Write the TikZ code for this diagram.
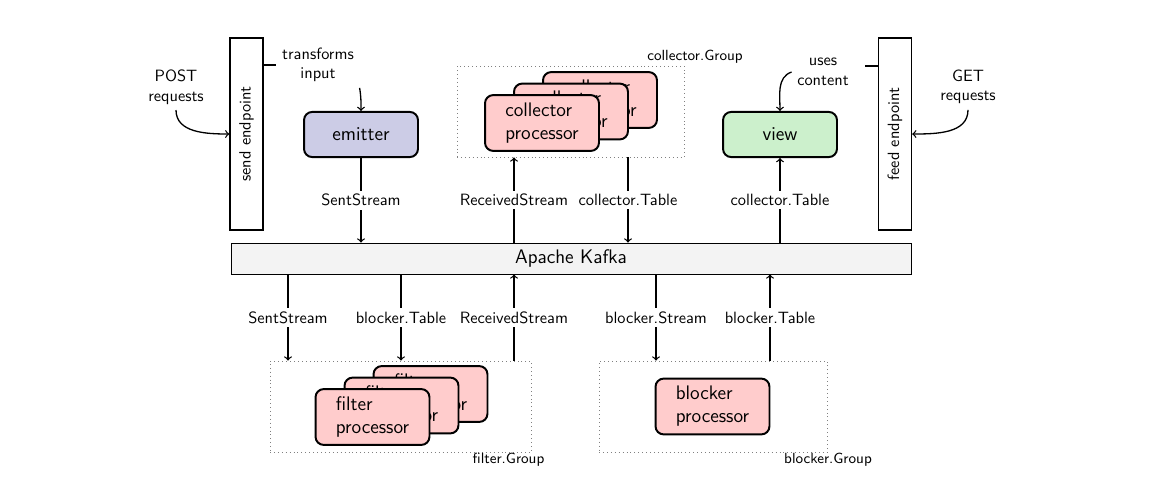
\documentclass[tikz,border=0pt]{standalone}
\usepackage{amsmath}
\usepackage{graphicx}
\usepackage{xcolor}
\definecolor{emitterblue}{RGB}{204,204,230}
\definecolor{viewgreen}{RGB}{204,240,204}
\definecolor{procred}{RGB}{255,204,204}
\definecolor{kafkagray}{RGB}{243,243,243}

\begin{document}
\begin{tikzpicture}[x=0.0215cm,y=-0.0215cm,font=\sffamily,
  comp/.style={draw,very thick,rounded corners=5pt,minimum width=2.45cm,minimum height=0.97cm,font=\sffamily\large},
  proc/.style={comp,fill=procred,minimum height=1.2cm,align=left},
  endpt/.style={draw,thick,minimum width=0.71cm,minimum height=4.13cm,inner sep=0pt},
  group/.style={draw=gray,dotted,minimum height=1.96cm},
  lbl/.style={fill=white,inner sep=2pt},
  glbl/.style={font=\sffamily\small}]

\useasboundingbox (0,0) rectangle (1149,490);

% endpoints
\node[endpt] (send) at (246.5,134) {\rotatebox{90}{send endpoint}};
\node[endpt] (feed) at (895,134) {\rotatebox{90}{feed endpoint}};

% kafka bar
\node[draw,fill=kafkagray,minimum width=14.62cm,minimum height=0.67cm,font=\sffamily\large] (kafka) at (571,258.5) {Apache Kafka};

% emitter and view
\node[comp,fill=emitterblue] (emitter) at (361,134.5) {emitter};
\node[comp,fill=viewgreen] (view) at (780,134.5) {view};

% collector group
\node[group,minimum width=4.88cm] (cgroup) at (570.5,111.5) {};
\node[glbl] (cglbl) at (695,57) {collector.Group};
\node[proc] (coll3) at (600,100) {collector\\processor};
\node[proc] (coll2) at (571,111.5) {collector\\processor};
\node[proc] (coll1) at (542,123) {collector\\processor};

% filter group
\node[group,minimum width=5.61cm] (fgroup) at (400.5,406.5) {};
\node[glbl] (fglbl) at (508.5,460) {filter.Group};
\node[proc] (filt3) at (430.5,394) {filter\\processor};
\node[proc] (filt2) at (401.5,405.5) {filter\\processor};
\node[proc] (filt1) at (372.5,417) {filter\\processor};

% blocker group
\node[group,minimum width=4.9cm] (bgroup) at (713,406.5) {};
\node[glbl] (bglbl) at (828,460) {blocker.Group};
\node[proc] (blocker) at (712.5,406.5) {blocker\\processor};

% side notes
\node[align=center] (tin) at (318,65) {transforms\\input};
\node[align=center] (uses) at (823,72) {uses\\content};
\node[align=center] (post) at (176,87) {POST\\requests};
\node[align=center] (get) at (968,87) {GET\\requests};
\coordinate (usespin) at (865,66);

\draw[thick] (send.east |- tin.west) -- (tin.west);
\draw[thick] (feed.west |- usespin) -- (usespin);
\draw[->,thick] (tin.south east) to[out=-80,in=90] (emitter.north);
\draw[->,thick] (uses.west) to[out=200,in=90] (view.north);
\draw[->,thick] (post.south) to[out=-90,in=180] (send.west);
\draw[->,thick] (get.south) to[out=-90,in=0] (feed.east);

% topics above kafka
\coordinate (rsup) at (514,0 |- kafka.north);
\coordinate (ctdown) at (628,0 |- kafka.north);
\draw[->,thick] (emitter) -- (emitter |- kafka.north) node[midway,lbl] {SentStream};
\draw[->,thick] (rsup) -- (rsup |- cgroup.south) node[midway,lbl] {ReceivedStream};
\draw[->,thick] (ctdown |- cgroup.south) -- (ctdown) node[midway,lbl] {collector.Table};
\draw[->,thick] (view |- kafka.north) -- (view) node[midway,lbl] {collector.Table};

% topics below kafka
\coordinate (ssdown) at (288,0 |- kafka.south);
\coordinate (btdown) at (401,0 |- kafka.south);
\coordinate (rsdown) at (514,0 |- kafka.south);
\coordinate (bsdown) at (656,0 |- kafka.south);
\coordinate (btup) at (770,0 |- kafka.south);
\draw[->,thick] (ssdown) -- (ssdown |- fgroup.north) node[midway,lbl] {SentStream};
\draw[->,thick] (btdown) -- (btdown |- fgroup.north) node[midway,lbl] {blocker.Table};
\draw[->,thick] (rsdown |- fgroup.north) -- (rsdown) node[midway,lbl] {ReceivedStream};
\draw[->,thick] (bsdown) -- (bsdown |- bgroup.north) node[midway,lbl] {blocker.Stream};
\draw[->,thick] (btup |- bgroup.north) -- (btup) node[midway,lbl] {blocker.Table};

\end{tikzpicture}
\end{document}
